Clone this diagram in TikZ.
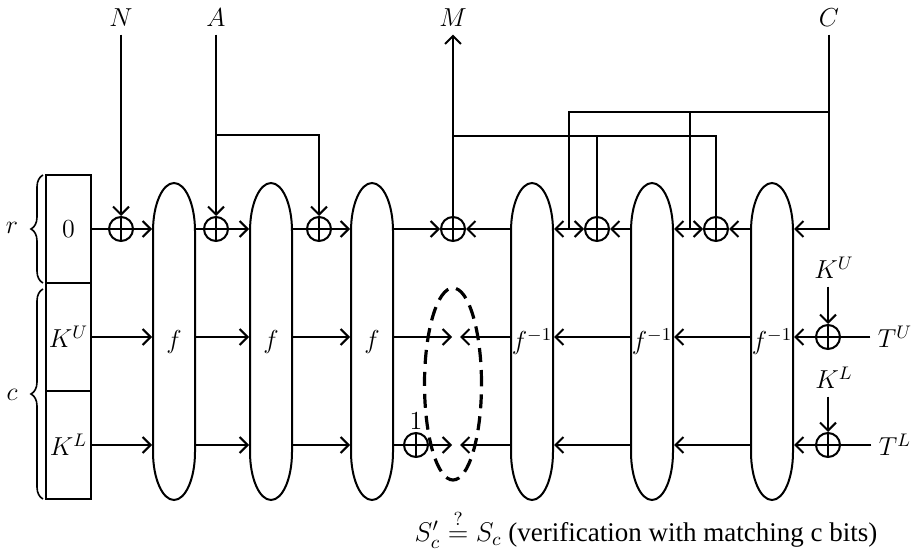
\RequirePackage{fix-cm}
\documentclass[tikz,border=0pt]{standalone}
\usepackage{amsmath}
\usepackage{fontspec}
\setmainfont{Liberation Serif}
\usetikzlibrary{arrows.meta,positioning,shapes.geometric,decorations.pathreplacing}

\begin{document}
\begin{tikzpicture}[x=0.5pt,y=-0.5pt,line width=1pt,
  font=\fontsize{13}{15}\selectfont,
  keybox/.style={draw,minimum width=22.5pt,minimum height=54pt,inner sep=0pt,outer sep=0pt},
  blk/.style={minimum width=21pt,minimum height=158.5pt,inner sep=0pt},
  xor/.style={circle,draw,minimum size=12pt,inner sep=0pt,
    path picture={\draw (path picture bounding box.north) -- (path picture bounding box.south)
      (path picture bounding box.west) -- (path picture bounding box.east);}},
  arr/.style={-{Straight Barb[length=4pt,width=8pt]}},
  brc/.style={decorate,decoration={brace,amplitude=6pt},line width=0.8pt}
]
  \useasboundingbox (0,0) rectangle (914,550);

  % state
  \node[keybox] (b0) at (68.5,229) {$0$};
  \node[keybox,below=0pt of b0] (bKU) {$K^U$};
  \node[keybox,below=0pt of bKU] (bKL) {$K^L$};
  \draw[brc] (43,283) -- (43,175);
  \draw[brc] (43,499) -- (43,289);
  \node (lr) at (12,228) {$r$};
  \node (lc) at (12,395) {$c$};

  % rounds
  \foreach \nm/\xx/\lab in {f1/174/f,f2/271/f,f3/372/f,g1/532/f^{-1},g2/652/f^{-1},g3/772/f^{-1}}{
    \node[blk] (\nm) at (\xx,341.5) {$\lab$};
    \draw (\xx-21,231) arc[start angle=180,end angle=360,x radius=21,y radius=48]
      -- (\xx+21,452) arc[start angle=0,end angle=180,x radius=21,y radius=48] -- cycle;
  }

  % xors
  \node[xor] (xN) at (121,229) {};
  \node[xor] (xA1) at (216,229) {};
  \node[xor] (xA2) at (319,229) {};
  \node[xor] (xM) at (453,229) {};
  \node[xor] (xC1) at (597,229) {};
  \node[xor] (xC2) at (716,229) {};
  \node[xor] (xKU) at (828,337) {};
  \node[xor] (xKL) at (828,445) {};
  \node[xor,label={[inner sep=1pt]above:$1$}] (x1) at (416,445) {};

  % inputs / outputs
  \node (lN) at (121,18) {$N$};
  \node (lA) at (216,18) {$A$};
  \node (lM) at (453,18) {$M$};
  \node (lC) at (829,18) {$C$};
  \node (lKU) at (834,268) {$K^U$};
  \node (lKL) at (834,378) {$K^L$};
  \node (lTU) at (895,337) {$T^U$};
  \node (lTL) at (895,445) {$T^L$};

  % top row
  \draw (b0) -- (xN);
  \draw[arr] (lN) -- (xN);
  \draw[arr] (xN) -- (f1.west |- xN);
  \draw (f1.east |- xA1) -- (xA1);
  \draw[arr] (lA) -- (xA1);
  \coordinate (aj) at (216,135);
  \draw[arr] (aj) -| (xA2);
  \draw[arr] (xA1) -- (f2.west |- xA1);
  \draw (f2.east |- xA2) -- (xA2);
  \draw[arr] (xA2) -- (f3.west |- xA2);
  \draw[arr] (f3.east |- xM) -- (xM);
  \draw[arr] (g1.west |- xM) -- (xM);
  \draw[arr] (xM) -- (lM);
  \coordinate (mj) at (453,136);
  \draw (mj) -| (xC2);
  \draw (mj) -| (xC1);
  \draw[arr] (g2.west |- xC1) -- (xC1);
  \draw[arr] (g3.west |- xC2) -- (xC2);
  \draw[arr] (lC) |- (g3.east |- xC2);
  \coordinate (cj) at (829,112);
  \coordinate (jc1) at (569,229);
  \coordinate (jc2) at (690,229);
  \draw (cj) -| (jc1);
  \draw (cj) -| (jc2);
  \draw[arr] (jc1) -- (g1.east |- jc1);
  \draw[arr] (jc1) -- (xC1);
  \draw[arr] (jc2) -- (g2.east |- jc2);
  \draw[arr] (jc2) -- (xC2);

  % middle row
  \coordinate (cU) at (456,337);
  \draw[arr] (bKU) -- (f1.west |- bKU);
  \draw[arr] (f1.east |- bKU) -- (f2.west |- bKU);
  \draw[arr] (f2.east |- bKU) -- (f3.west |- bKU);
  \draw[arr,shorten >=2pt] (f3.east |- cU) -- (cU);
  \draw[arr,shorten >=2pt] (g1.west |- cU) -- (cU);
  \draw[arr] (g2.west |- cU) -- (g1.east |- cU);
  \draw[arr] (g3.west |- cU) -- (g2.east |- cU);
  \draw[arr] (xKU) -- (g3.east |- xKU);
  \draw (lTU) -- (xKU);
  \draw[arr] (lKU.south -| xKU) -- (xKU);

  % bottom row
  \coordinate (cL) at (456,445);
  \draw[arr] (bKL) -- (f1.west |- bKL);
  \draw[arr] (f1.east |- bKL) -- (f2.west |- bKL);
  \draw[arr] (f2.east |- bKL) -- (f3.west |- bKL);
  \draw (f3.east |- x1) -- (x1);
  \draw[arr,shorten >=2pt] (x1) -- (cL);
  \draw[arr,shorten >=2pt] (g1.west |- cL) -- (cL);
  \draw[arr] (g2.west |- cL) -- (g1.east |- cL);
  \draw[arr] (g3.west |- cL) -- (g2.east |- cL);
  \draw[arr] (xKL) -- (g3.east |- xKL);
  \draw (lTL) -- (xKL);
  \draw[arr] (lKL.south -| xKL) -- (xKL);

  % check
  \node[draw,ellipse,line width=1.6pt,dash pattern=on 7pt off 4pt,
    minimum width=28.5pt,minimum height=96pt,inner sep=0pt] (chk) at (453,384) {};
  \node[font=\fontsize{13.5}{16}\selectfont] (res) at (646,529)
    {$S_c' \overset{?}{=} S_c$ (verification with matching c bits)};
\end{tikzpicture}
\end{document}
